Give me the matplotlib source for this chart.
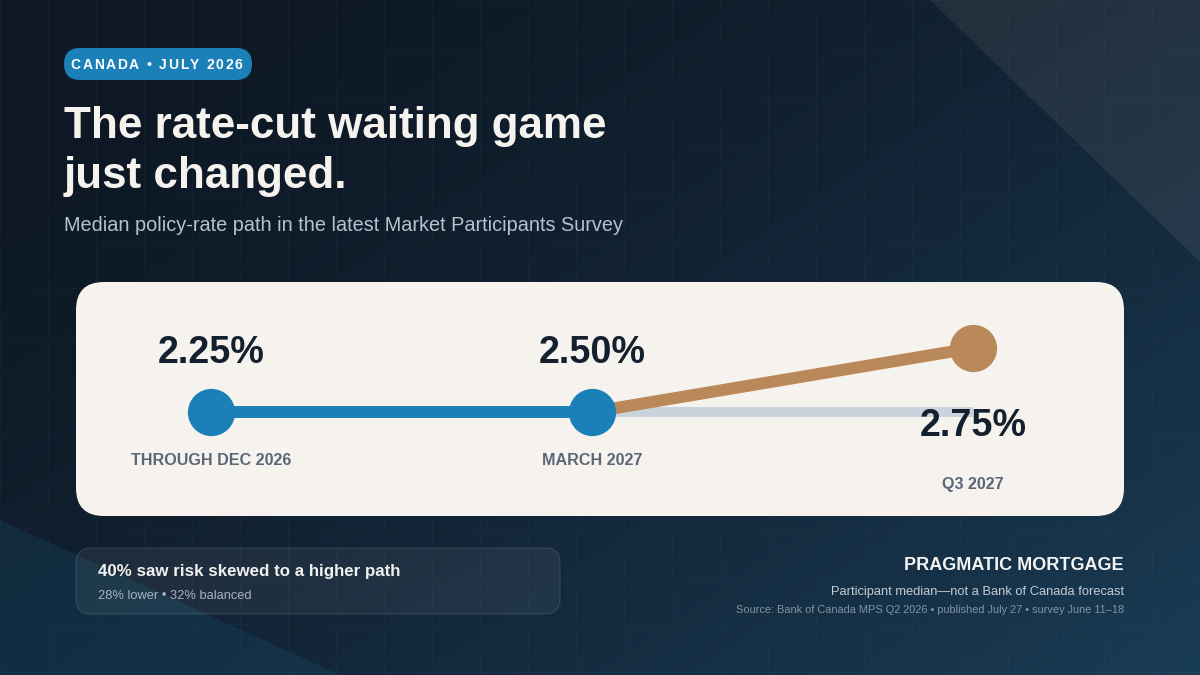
import numpy as np
import matplotlib
matplotlib.use("Agg")
import matplotlib.pyplot as plt
from matplotlib.patches import FancyBboxPatch, Polygon

plt.rcParams['font.family'] = ['Liberation Sans', 'DejaVu Sans']

# data
periods = ["THROUGH DEC 2026", "MARCH 2027", "Q3 2027"]
rates = [2.25, 2.50, 2.75]
rate_labels = ["2.25%", "2.50%", "2.75%"]
path_level = [0, 0, 1]  # hold through March, then the step up
badge = "CANADA \u2022 JULY 2026"
title_lines = ["The rate-cut waiting game", "just changed."]
subtitle = "Median policy-rate path in the latest Market Participants Survey"
risk_head = "40% saw risk skewed to a higher path"
risk_sub = "28% lower \u2022 32% balanced"
brand = "PRAGMATIC MORTGAGE"
note = "Participant median\u2014not a Bank of Canada forecast"
source = "Source: Bank of Canada MPS Q2 2026 \u2022 published July 27 \u2022 survey June 11\u201318"

BLUE = "#1b80b8"
BROWN = "#b9895a"
GREY_LINE = "#c9d3db"
CARD = "#f6f3ef"
INK = "#14202e"
LABEL = "#5b6777"

W, H = 1200, 675
fig = plt.figure(figsize=(12, 6.75), dpi=100)

# background in pixel coordinates
bg = fig.add_axes([0, 0, 1, 1])
bg.set_xlim(0, W)
bg.set_ylim(H, 0)
bg.axis("off")

yy, xx = np.mgrid[0:H:2, 0:W:2]
t = np.clip((xx / W * 0.55 + yy / H * 0.45), 0, 1)[..., None]
c0 = np.array([14, 23, 35]) / 255
c1 = np.array([25, 60, 86]) / 255
t = t ** 1.6
img = c0 * (1 - t) + c1 * t
bg.imshow(img, extent=[0, W, H, 0], aspect="auto", zorder=0)

for gx in range(0, W + 1, 48):
    bg.axvline(gx, color="white", alpha=0.025, lw=1, zorder=1)
for gy in range(0, H + 1, 48):
    bg.axhline(gy, color="white", alpha=0.025, lw=1, zorder=1)

bg.add_patch(Polygon([(930, 0), (W, 0), (W, 262)], closed=True,
                     facecolor="#b0aaa4", alpha=0.11, lw=0, zorder=2))
bg.add_patch(Polygon([(0, 520), (340, H), (0, H)], closed=True,
                     facecolor=BLUE, alpha=0.13, lw=0, zorder=2))

# badge pill with letter-spaced text
bg.add_patch(FancyBboxPatch((64, 48), 188, 32,
                            boxstyle="round,pad=0,rounding_size=16",
                            facecolor=BLUE, lw=0, zorder=3))
renderer = fig.canvas.get_renderer()
x = 70.5
for ch in badge:
    tx = bg.text(x, 69, ch, color="white", fontsize=10, fontweight="bold",
                 va="baseline", ha="left", zorder=4)
    w = tx.get_window_extent(renderer).width if ch != " " else 4.0
    x += w + 1.7

bg.text(64, 138, title_lines[0], color="#f6f3ef", fontsize=31.7, fontweight="bold",
        va="baseline", zorder=4)
bg.text(64, 188, title_lines[1], color="#f6f3ef", fontsize=31.7, fontweight="bold",
        va="baseline", zorder=4)
bg.text(64, 231, subtitle, color="#b6c2ce", fontsize=14.35, va="baseline", zorder=4)

# card
bg.add_patch(FancyBboxPatch((76, 282), 1048, 234,
                            boxstyle="round,pad=0,rounding_size=28",
                            facecolor=CARD, lw=0, zorder=3))

# risk box
bg.add_patch(FancyBboxPatch((76, 548), 484, 66,
                            boxstyle="round,pad=0,rounding_size=15",
                            facecolor=(1, 1, 1, 0.06), edgecolor=(1, 1, 1, 0.10),
                            lw=1, zorder=3))
bg.text(98, 576, risk_head, color="#f1f0ee", fontsize=12.2, fontweight="bold",
        va="baseline", zorder=4)
bg.text(98, 599, risk_sub, color="#a7b2be", fontsize=9.3, va="baseline", zorder=4)

bg.text(1124, 570, brand, color="#f4f4f2", fontsize=13, fontweight="bold",
        ha="right", va="baseline", zorder=4)
bg.text(1124, 595, note, color="#c3cbd3", fontsize=9.27, ha="right",
        va="baseline", zorder=4)
bg.text(1124, 613, source, color="#8393a3", fontsize=7.88, ha="right",
        va="baseline", zorder=4)

# path chart: x=0 -> px 211, x=2 -> px 973; level 0 -> py 412, level 1 -> py 348
ax = fig.add_axes([211 / W, (H - 412) / H, (973 - 211) / W, 64 / H])
ax.set_xlim(0, 2)
ax.set_ylim(0, 1)
ax.axis("off")
ax.patch.set_alpha(0)
xs = np.arange(len(rates))

ax.plot([xs[1], xs[2]], [path_level[1], path_level[1]], color=GREY_LINE, lw=7.2,
        solid_capstyle="butt", clip_on=False, zorder=2)
ax.plot(xs[:2], path_level[:2], color=BLUE, lw=8.6, solid_capstyle="butt",
        clip_on=False, zorder=3)
ax.plot(xs[1:], path_level[1:], color=BROWN, lw=8.6, solid_capstyle="butt",
        clip_on=False, zorder=3)
dot_colors = [BLUE, BLUE, BROWN]
for i in xs:
    ax.plot(xs[i], path_level[i], "o", ms=34, color=dot_colors[i], mec="none",
            clip_on=False, zorder=4)

rate_offsets = [35.3, 35.3, -63.4]
period_offsets = [-38.2, -38.2, -101.5]
for i in xs:
    ax.annotate(rate_labels[i], (xs[i], path_level[i]), xytext=(0, rate_offsets[i]),
                textcoords="offset points", ha="center", va="baseline",
                fontsize=27.2, fontweight="bold", color=INK, annotation_clip=False)
    ax.annotate(periods[i], (xs[i], path_level[i]), xytext=(0, period_offsets[i]),
                textcoords="offset points", ha="center", va="baseline",
                fontsize=11.6, fontweight="bold", color=LABEL, annotation_clip=False)

fig.savefig("out.png", dpi=100)
